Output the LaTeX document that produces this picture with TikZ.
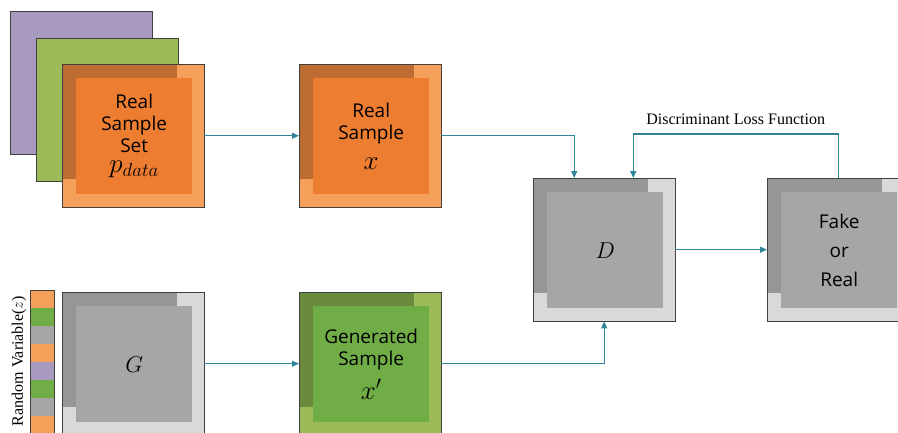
\RequirePackage{fix-cm}
\documentclass[tikz,border=0pt]{standalone}
\usepackage{fontspec}
\setmainfont{Liberation Serif}
\newfontfamily\boxsans{Open Sans}
\usetikzlibrary{arrows.meta,positioning}
\definecolor{orangeLight}{RGB}{244,160,90}
\definecolor{orangeFace}{RGB}{237,125,49}
\definecolor{orangeDark}{RGB}{189,108,50}
\definecolor{greenLight}{RGB}{155,187,89}
\definecolor{greenFace}{RGB}{112,173,71}
\definecolor{greenDark}{RGB}{106,139,62}
\definecolor{grayLight}{RGB}{217,217,217}
\definecolor{grayFace}{RGB}{166,166,166}
\definecolor{grayDark}{RGB}{150,150,150}
\definecolor{purpleLight}{RGB}{168,153,192}
\definecolor{arrowColor}{RGB}{49,133,155}
\definecolor{frameColor}{RGB}{64,64,64}
\newcommand{\boxfont}{\boxsans\fontsize{19}{22}\selectfont}
\newcommand{\labelfont}{\fontsize{16}{18}\selectfont}
\newcommand{\symfont}{\fontsize{23}{23}\selectfont}
\newcommand{\bigsymfont}{\fontsize{27}{27}\selectfont}
% block = light frame, dark corner layer, face with the text on it
\newcommand{\layerbox}[7]{%
  \node[outer, fill=#4] (#1) at (#2,#3) {};
  \node[layer, fill=#5] (#1-back) at (#1.north west) {};
  \node[face, fill=#6] (#1-face) at ([xshift=14pt,yshift=-14pt]#1.north west) {#7};
  \draw[frame] (#1.north west) rectangle (#1.south east);
}

\begin{document}
\begin{tikzpicture}[x=1pt, y=-1pt,
    outer/.style={minimum width=142pt, minimum height=143pt, inner sep=0pt, anchor=north west},
    layer/.style={minimum width=115pt, minimum height=115pt, inner sep=0pt, anchor=north west},
    face/.style={minimum width=116pt, minimum height=116pt, inner sep=0pt, anchor=north west, align=center, font=\boxfont},
    frame/.style={draw=frameColor, line width=0.8pt},
    cell/.style={minimum width=24pt, minimum height=18pt, inner sep=0pt, anchor=north west},
    arr/.style={-{Triangle[length=7pt,width=6pt]}, line width=1.2pt, arrowColor}
  ]
  \clip (0,0) rectangle (898,432);

  \node[outer, frame, fill=purpleLight] (stack1) at (10,11) {};
  \node[outer, frame, fill=greenLight] (stack2) at (36,38) {};
  \layerbox{set}{62}{64}{orangeLight}{orangeDark}{orangeFace}{Real\\Sample\\Set\\[-2pt]{\bigsymfont$p_{data}$}}
  \layerbox{real}{299}{64}{orangeLight}{orangeDark}{orangeFace}{Real\\Sample\\[8pt]{\bigsymfont$x$}}
  \layerbox{gen}{62}{292}{grayLight}{grayDark}{grayFace}{\symfont$G$}
  \layerbox{fake}{299}{292}{greenLight}{greenDark}{greenFace}{Generated\\Sample\\[8pt]{\bigsymfont$x'$}}
  \layerbox{dis}{533}{178}{grayLight}{grayDark}{grayFace}{\symfont$D$}
  \layerbox{out}{767}{178}{grayLight}{grayDark}{grayFace}{Fake\\[7pt]or\\[7pt]Real}

  % noise vector z
  \foreach \c [count=\i] in {orangeLight,greenFace,grayFace,orangeLight,purpleLight,greenFace,grayFace,orangeLight}
    \node[cell, fill=\c] (z\i) at (30,272+18*\i) {};
  \draw[frame] (z1.north west) rectangle (z8.south east);
  \node[rotate=90, font=\labelfont] (zlabel) at (19,361) {Random Variable($z$)};

  \draw[arr] (set) -- (real);
  \draw[arr] (real.east) -| ([xshift=-30pt]dis.north);
  \draw[arr] (gen) -- (fake);
  \draw[arr] (fake.east) -| (dis.south);
  \draw[arr] (dis) -- (out);
  \draw[arr] (out.north) -- ++(0,-44) -| node[pos=0.25, above=5pt, font=\labelfont, text=black] (loss) {Discriminant Loss Function} ([xshift=29pt]dis.north);
\end{tikzpicture}
\end{document}
